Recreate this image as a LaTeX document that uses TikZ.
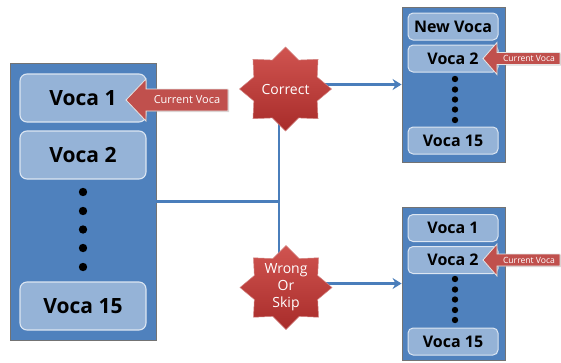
\documentclass[tikz,border=0pt]{standalone}
\usepackage{fontspec}
\setmainfont{Open Sans}
\usetikzlibrary{shapes.geometric,arrows.meta,shadows}
\definecolor{panelblue}{HTML}{4F81BD}
\definecolor{boxblue}{HTML}{95B3D7}
\definecolor{boxline}{HTML}{DCE6F2}
\definecolor{starred}{HTML}{C0504D}
\definecolor{lineblue}{HTML}{4A7EBB}
\definecolor{calloutred}{HTML}{C0504D}
\begin{document}
\begin{tikzpicture}[x=1pt,y=-1pt,
  panel/.style={draw=black!55, fill=panelblue, line width=0.9pt, inner sep=0pt},
  bigbox/.style={draw=boxline, fill=boxblue, line width=1.1pt, rounded corners=7pt,
    minimum width=126pt, minimum height=48pt, inner sep=0pt, font=\fontsize{21}{24}\selectfont\bfseries},
  smallbox/.style={draw=boxline, fill=boxblue, line width=1pt, rounded corners=5pt,
    minimum width=90pt, minimum height=27pt, inner sep=0pt, font=\fontsize{16}{18}\selectfont\bfseries},
  conn/.style={draw=lineblue, line width=2.4pt},
  starfill/.style={draw=starred!70!white, line width=0.5pt,
    top color={rgb,255:red,208;green,84;blue,80}, bottom color={rgb,255:red,168;green,44;blue,42}},
  startext/.style={text=white, font=\fontsize{14}{17}\selectfont, align=center, inner sep=0pt},
  callout/.style={fill=calloutred, draw=white!90!black, line width=0.8pt, drop shadow={opacity=0.3, shadow xshift=1pt, shadow yshift=-1pt}},
  callouttext/.style={text=white, inner sep=0pt},
  dot/.style={fill=black}
]
\useasboundingbox (0,0) rectangle (561,362);

% left panel
\node[panel, minimum width=146pt, minimum height=277pt] (L) at (83,201.5) {};
\node[bigbox] (L1) at (83,98) {Voca 1};
\node[bigbox] (L2) at (83,155) {Voca 2};
\node[bigbox] (L15) at (83,306) {Voca 15};
\foreach \yy in {192,211,229.5,248,267} \fill[dot] (83,\yy) circle (4.2pt);

% top right panel
\node[panel, minimum width=103pt, minimum height=155pt] (TR) at (453.5,84.5) {};
\node[smallbox] (T1) at (453,26.5) {New Voca};
\node[smallbox] (T2) at (453,58.5) {Voca 2};
\node[smallbox] (T15) at (453,140.5) {Voca 15};
\foreach \yy in {79,89.5,99.5,109.5,120} \fill[dot] (455,\yy) circle (3.2pt);

% bottom right panel
\node[panel, minimum width=103pt, minimum height=153pt] (BR) at (453.5,283.5) {};
\node[smallbox] (B1) at (453,228) {Voca 1};
\node[smallbox] (B2) at (453,260) {Voca 2};
\node[smallbox] (B15) at (453,341.5) {Voca 15};
\foreach \yy in {279,289.5,299.5,310,320} \fill[dot] (455,\yy) circle (3.2pt);

% connectors
\coordinate (J) at (279,201.5);
\draw[conn] (L.east) -- (J);
\draw[conn, -{Stealth[length=9pt,width=11pt,inset=3pt]}] (J) |- (TR.west);
\draw[conn, -{Stealth[length=9pt,width=11pt,inset=3pt]}] (J) |- (BR.west);

% stars
\node[startext] (S1t) at (285.5,89) {Correct};
\node[startext] (S2t) at (286,287.5) {Wrong\\Or\\Skip};
\foreach \nm in {S1t,S2t} {
  \begin{scope}[shift={(\nm.center)}]
    \path[starfill] plot[samples at={0,...,15}]
      ({46*(mod(\x,2)==0 ? 1 : 0.745)*cos(\x*22.5+90)}, {42*(mod(\x,2)==0 ? 1 : 0.745)*sin(\x*22.5+90)}) -- cycle;
  \end{scope}
}
\node[startext] at (S1t) {Correct};
\node[startext] at (S2t) {Wrong\\Or\\Skip};

% callouts
\coordinate (CL) at (126,100);
\path[callout] (CL) -- ++(20,-21) -- ++(0,10) -- ++(82,0) -- ++(0,22) -- ++(-82,0) -- ++(0,10) -- cycle;
\node[callouttext, font=\fontsize{11}{13}\selectfont] (CLt) at (187,100) {Current Voca};

\coordinate (CT) at (483,58.5);
\path[callout] (CT) -- ++(14,-16) -- ++(0,10) -- ++(63,0) -- ++(0,12) -- ++(-63,0) -- ++(0,10) -- cycle;
\node[callouttext, font=\fontsize{8.6}{10}\selectfont] (CTt) at (529,58.5) {Current Voca};

\coordinate (CB) at (483,260);
\path[callout] (CB) -- ++(14,-16) -- ++(0,10) -- ++(63,0) -- ++(0,12) -- ++(-63,0) -- ++(0,10) -- cycle;
\node[callouttext, font=\fontsize{8.6}{10}\selectfont] (CBt) at (529,260) {Current Voca};
\end{tikzpicture}
\end{document}
